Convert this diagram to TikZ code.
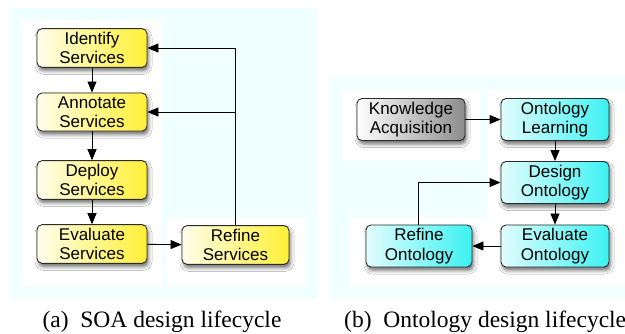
\documentclass[tikz,border=0pt]{standalone}
\usepackage{fontspec}
\setmainfont{Liberation Serif}
\setsansfont{Liberation Sans}
\usepackage{tikz}
\usetikzlibrary{arrows.meta,positioning,shadows.blur}
\usepackage{xcolor}
\definecolor{fpanel}{HTML}{F0FFFF}
\definecolor{fyellow}{HTML}{FFF036}
\definecolor{fcyan}{HTML}{3CF2F2}
\definecolor{fgray}{HTML}{8C8C8C}
\definecolor{fedge}{HTML}{2B2B2B}
\tikzset{
  stage/.style   = {draw=fedge, line width=0.9pt, rounded corners=5pt,
                    minimum height=38pt, minimum width=110pt, align=center,
                    font=\sffamily\fontsize{17}{19.5}\selectfont,
                    blur shadow={shadow xshift=1.5pt, shadow yshift=-3.5pt,
                                 shadow blur radius=3.5pt, shadow opacity=55}},
  soa/.style     = {stage, left color=white!90!fyellow, right color=fyellow},
  onto/.style    = {stage, left color=white!85!fcyan, right color=fcyan},
  know/.style    = {stage, left color=white, right color=fgray},
  flow/.style    = {-{Triangle[length=11pt,width=9pt]}, line width=0.9pt},
  caption/.style = {font=\fontsize{23.5}{27}\selectfont, inner sep=0pt, anchor=base},
}
\begin{document}
\begin{tikzpicture}[x=1pt,y=-1pt]
\useasboundingbox (0,0) rectangle (625,333);
% panels
\fill[fpanel] (10,8) rectangle (318,298);
\fill[white] (22,20) rectangle (162,287);
\fill[white] (166,217) rectangle (305,287);
\fill[fpanel] (330,77) rectangle (625,298);
\fill[white] (342,90) rectangle (480,160);
\fill[white] (487,90) rectangle (625,217);
\fill[white] (350,217) rectangle (625,287);
% SOA lifecycle
\node[soa] (identify) at (92,48)  {Identify\\Services};
\node[soa] (annotate) at (92,112) {Annotate\\Services};
\node[soa] (deploy)   at (92,180) {Deploy\\Services};
\node[soa] (evaluate) at (92,244) {Evaluate\\Services};
\node[soa,minimum width=107pt] (refine) at (235.5,245) {Refine\\Services};
\coordinate (loop) at (235,48);
\draw[flow] (identify) -- (annotate);
\draw[flow] (annotate) -- (deploy);
\draw[flow] (deploy) -- (evaluate);
\draw[flow] (evaluate) -- (refine);
\draw[flow] (refine.north -| loop) -- (loop) -- (identify.east |- loop);
\draw[flow] (annotate.east -| loop) -- (annotate.east);
% ontology lifecycle
\node[know,minimum width=108pt] (knowledge) at (411,119.5) {Knowledge\\Acquisition};
\node[onto,minimum width=108pt] (learning)  at (555,119.5) {Ontology\\Learning};
\node[onto,minimum width=108pt] (design)    at (555,182.5) {Design\\Ontology};
\node[onto,minimum width=108pt] (assess)    at (555,246)   {Evaluate\\Ontology};
\node[onto,minimum width=106pt] (rework)    at (419,246)   {Refine\\Ontology};
\coordinate (back) at (418,182.5);
\draw[flow] (knowledge) -- (learning);
\draw[flow] (learning) -- (design);
\draw[flow] (design) -- (assess);
\draw[flow] (assess) -- (rework);
\draw[flow] (rework.north -| back) -- (back) -- (design.west);
% captions
\node[caption] (capa) at (162,327) {(a)\enspace SOA design lifecycle};
\node[caption,anchor=base west] (capb) at (344,327) {(b)\enspace Ontology design lifecycle};
\end{tikzpicture}
\end{document}
